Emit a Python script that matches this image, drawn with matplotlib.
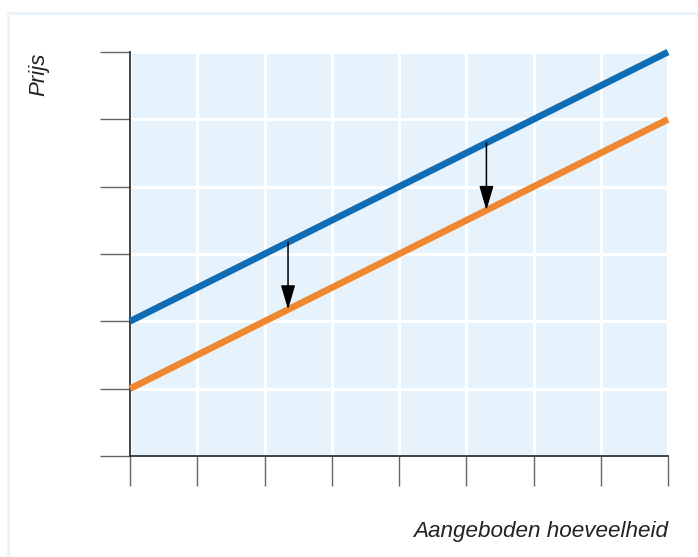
import matplotlib
matplotlib.use("Agg")
import matplotlib.pyplot as plt
from matplotlib.patches import Rectangle

# Data
quantity = [0, 8]
supply_old = [2, 6]
supply_new = [1, 5]
arrow_x = [2.35, 5.3]
x_ticks = [0, 1, 2, 3, 4, 5, 6, 7, 8]
y_ticks = [0, 1, 2, 3, 4, 5, 6]
x_label = "Aangeboden hoeveelheid"
y_label = "Prijs"

W, H = 698, 557
fig = plt.figure(figsize=(W / 100, H / 100), dpi=100)
fig.patch.set_facecolor("white")

# pale outer frame
fig.patches.append(Rectangle((8 / W, -0.05), 1.2, (H - 13) / H + 0.05, transform=fig.transFigure,
                             fill=False, edgecolor="#EAF4FB", linewidth=2.2, zorder=0))

ax = fig.add_axes([130 / W, 1 - 456 / H, (668 - 130) / W, (456 - 52) / H])
ax.set_facecolor("#E6F3FC")
ax.set_xlim(0, 8)
ax.set_ylim(0, 6)
ax.set_xticks(x_ticks)
ax.set_yticks(y_ticks)
ax.set_xticklabels([])
ax.set_yticklabels([])
ax.grid(True, color="white", linewidth=2.2)
ax.set_axisbelow(True)
for s in ["top", "right"]:
    ax.spines[s].set_visible(False)
for s in ["left", "bottom"]:
    ax.spines[s].set_color("#333333")
    ax.spines[s].set_linewidth(1.3)
ax.tick_params(direction="out", length=21.5, width=1.0, color="#666666")

blue = "#0E6DB5"
orange = "#EF8730"
ax.plot(quantity, supply_old, color=blue, linewidth=4.8, solid_capstyle="butt", clip_on=False, zorder=3)
ax.plot(quantity, supply_new, color=orange, linewidth=4.8, solid_capstyle="butt", clip_on=False, zorder=3)

def interp(xs, ys, x):
    return ys[0] + (ys[1] - ys[0]) * (x - xs[0]) / (xs[1] - xs[0])

for xa in arrow_x:
    y0 = interp(quantity, supply_old, xa)
    y1 = interp(quantity, supply_new, xa)
    ax.annotate("", xy=(xa, y1), xytext=(xa, y0),
                arrowprops=dict(arrowstyle="-|>,head_length=0.75,head_width=0.22", color="black", lw=1.1,
                                mutation_scale=20, shrinkA=0, shrinkB=0),
                zorder=4)

fig.text(39 / W, 1 - 74 / H, y_label, rotation=90, ha="center", va="center",
         fontsize=16, style="italic", family="Liberation Sans", color="#222222")
fig.text(668 / W, 1 - 531 / H, x_label, ha="right", va="center",
         fontsize=16.2, style="italic", family="Liberation Sans", color="#222222")

fig.savefig("out.png", dpi=100)
